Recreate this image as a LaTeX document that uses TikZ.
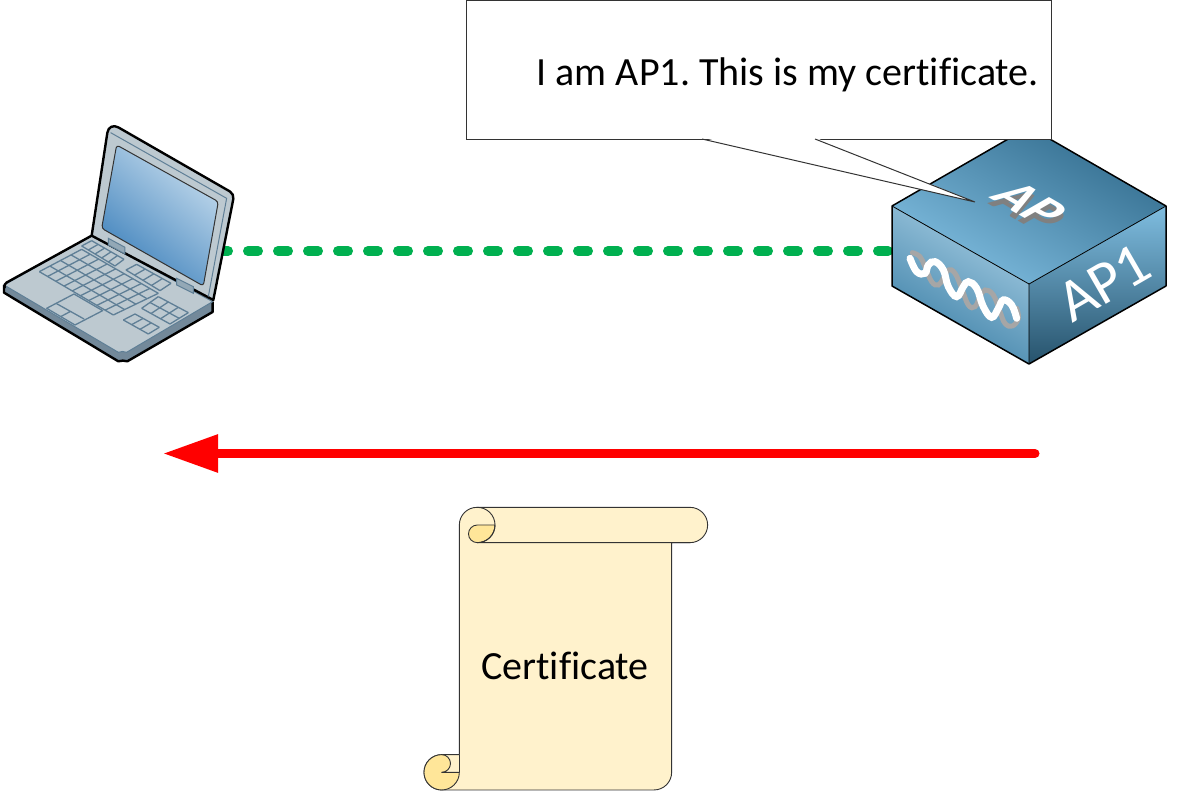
\documentclass[tikz,border=0pt]{standalone}
\usepackage{fontspec}
\setmainfont{Carlito}[Ligatures=NoCommon]
\usetikzlibrary{arrows.meta,calc}
\definecolor{scrollfill}{HTML}{FFF2CC}
\definecolor{scrollfold}{HTML}{FFE699}
\definecolor{bodygrey}{HTML}{BDC9D0}
\definecolor{sidegrey}{HTML}{73899A}
\definecolor{keyline}{HTML}{5F7F96}
\definecolor{apdark}{HTML}{3B7FA6}
\definecolor{aplight}{HTML}{7FBDE0}
\definecolor{screendark}{HTML}{3F82BC}
\definecolor{screenlight}{HTML}{C4DBED}
\definecolor{wlan}{HTML}{00B050}
\newcommand{\keyblock}[6]{% corner, u end, v end, u keys, v keys, far corner
  \foreach \i in {0,...,#4}
    \draw[key line] ($#1!\i/#4!#2$) -- ($#3!\i/#4!#6$);
  \foreach \j in {0,...,#5}
    \draw[key line] ($#1!\j/#5!#3$) -- ($#2!\j/#5!#6$);
}
\begin{document}
\frenchspacing
\begin{tikzpicture}[x=1pt,y=-1pt,
  key line/.style={keyline,line width=1.3pt,line join=round},
  box edge/.style={black,line width=1.5pt,line join=round},
  laptop edge/.style={black,line width=2.4pt,line join=round},
  scroll line/.style={draw=black!80,line width=0.9pt,line join=round},
  link/.style={draw=wlan,line width=10pt,line cap=round,dash pattern=on 10pt off 20pt},
  label/.style={font=\fontsize{40}{40}\selectfont,inner sep=0pt},
  logo/.style={font=\fontsize{54}{54}\selectfont\bfseries,inner sep=0pt,cm={.866,-.5,.866,.5,(0,0)},transform shape}]
  \useasboundingbox (0,0) rectangle (1203,791);

  \coordinate (laptop port) at (218,251);
  \coordinate (ap port) at (896,251);
  \coordinate (arrow start) at (1035,453.5);
  \coordinate (arrow end) at (163,453.5);

  \draw[link] (laptop port) -- (ap port);
  \draw[red,line width=9pt,line cap=round,-{Triangle[length=55pt,width=36pt]}] (arrow start) -- (arrow end);

  % laptop
  \begin{scope}[shift={(0,120)},x=0.3333pt,y=-0.3333pt]
    \fill[sidegrey] (12,495) -- (12,520) -- (355,722) to[out=20,in=160] (382,722) -- (640,575) -- (640,545) -- cycle;
    \draw[laptop edge] (12,495) -- (12,518) -- (355,724) to[out=15,in=165] (382,724) -- (638,576) -- (638,545);
    \filldraw[fill=bodygrey,draw=keyline,line width=1pt,line join=round] (275,347) -- (638,545) -- (380,697) to[out=160,in=20] (355,697) -- (12,495) -- cycle;
    \draw[laptop edge,rounded corners=3pt] (275,347) -- (12,492) -- (14,505);
    \filldraw[fill=bodygrey,draw=black,line width=2.4pt,line join=round]
      (275,347) [rounded corners=11pt] -- (327,6) [rounded corners=5pt] -- (703,222) [sharp corners] -- (640,540) -- cycle;
    \draw[keyline,line width=1pt] (332,38) -- (680,235) -- (625,530);
    \shade[left color=screendark,right color=screenlight,shading angle=140,draw=black!80,line width=1pt,rounded corners=3pt]
      (350,75) -- (655,245) -- (610,498) -- (305,325) -- cycle;
    \filldraw[fill=keyline!45!bodygrey,draw=keyline,line width=1pt] (325,355) -- (375,382) -- (375,402) -- (325,375) -- cycle;
    \filldraw[fill=keyline!45!bodygrey,draw=keyline,line width=1pt] (530,475) -- (580,500) -- (580,520) -- (530,495) -- cycle;
    \keyblock{(245,378)}{(345,438)}{(275,362)}{5}{1}{(372,418)}
    \keyblock{(378,450)}{(480,512)}{(410,433)}{4}{1}{(513,490)}
    \keyblock{(118,455)}{(340,585)}{(245,388)}{9}{4}{(475,520)}
    \keyblock{(425,565)}{(510,612)}{(475,530)}{3}{2}{(565,578)}
    \keyblock{(370,600)}{(445,642)}{(405,582)}{3}{1}{(478,622)}
    \draw[key line] (140,565) -- (222,522) -- (308,572) -- (225,615) -- cycle;
    \draw[key line] (168,550) -- (252,597) (182,590) -- (212,574);
  \end{scope}

  % access point
  \shade[bottom color=aplight,top color=apdark!85!black,shading angle=-30] (892,206) -- (1029,127) -- (1166,206) -- (1029,284) -- cycle;
  \shade[left color=apdark,right color=aplight!55!white!85!apdark,shading angle=150] (892,206) -- (1029,284) -- (1029,364) -- (892,286) -- cycle;
  \shade[top color=aplight,bottom color=apdark!65!black] (1029,284) -- (1166,206) -- (1166,286) -- (1029,364) -- cycle;
  \draw[box edge] (1029,127) -- (892,206) -- (892,286) -- (1029,364) -- (1166,286) -- (1166,206) -- cycle;
  \draw[black,line width=0.8pt] (892,206) -- (1029,284) -- (1166,206) (1029,284) -- (1029,364);
  % chain icon on the front face
  \begin{scope}[shift={(905,240)},x=0.3333pt,y=-0.3333pt]
    \draw[black!35,line width=5pt,line cap=round] plot[smooth,tension=.7] coordinates {(22,38) (45,50) (60,80) (80,125) (100,135) (115,115) (130,90) (150,100) (170,145) (190,195) (210,200) (225,170) (240,150) (265,165) (285,215) (300,250) (322,258) (340,235) (335,205)};
    \draw[white,line width=7pt,line cap=round] plot[smooth,tension=.7] coordinates {(15,55) (35,95) (60,100) (70,75) (90,65) (115,90) (130,140) (155,170) (175,140) (190,125) (215,145) (235,200) (260,232) (280,205) (295,180) (320,195) (335,235)};
  \end{scope}
  \node[logo,text=gray] (ap shadow) at (1029,210) {AP};
  \node[logo,text=white] (ap logo) at (1030,204) {AP};
  \node[label,text=white,font=\fontsize{60}{60}\selectfont,rotate=30] (ap name) at (1104,283) {AP1};

  % callout
  \node[draw=black!80,fill=white,line width=1pt,minimum width=585pt,minimum height=139pt,anchor=north west,inner sep=0pt] (callout) at (466,0) {};
  \coordinate (callout tip) at (975,202);
  \fill[white] (702,137.5) -- (callout tip) -- (815,137.5) -- cycle;
  \draw[black!80,line width=1pt] (702,139) -- (callout tip) -- (815,139);
  \node[label,anchor=base east] (speech) at (1039,86) {I am AP1. This is my certificate.};

  % scroll
  \begin{scope}[shift={(415,500)},x=0.3333pt,y=-0.3333pt]
    \filldraw[fill=scrollfill,scroll line] (187,22) -- (825,22) arc[start angle=90,end angle=-90,radius=17.67pt] -- (770,128) -- (770,817)
      arc[start angle=0,end angle=-90,radius=17.67pt] -- (80,870) arc[start angle=270,end angle=90,radius=17.67pt] -- (133,764) -- (133,75) arc[start angle=180,end angle=90,radius=17.67pt] -- cycle;
    \filldraw[fill=scrollfold,scroll line] (240,75) -- (187,75) arc[start angle=90,end angle=270,radius=8.83pt] arc[start angle=270,end angle=360,radius=17.67pt] -- cycle;
    \draw[scroll line] (187,22) arc[start angle=90,end angle=0,radius=17.67pt] arc[start angle=0,end angle=-90,radius=17.67pt] -- (825,128);
    \filldraw[fill=scrollfold,scroll line] (80,764) arc[start angle=90,end angle=270,radius=17.67pt] arc[start angle=270,end angle=360,radius=17.67pt] -- (80,817) arc[start angle=-90,end angle=90,radius=8.83pt] -- cycle;
    \draw[scroll line] (133,764) -- (133,817);
  \end{scope}
  \node[label] (certificate) at (565,666) {Certificate};
\end{tikzpicture}
\end{document}
